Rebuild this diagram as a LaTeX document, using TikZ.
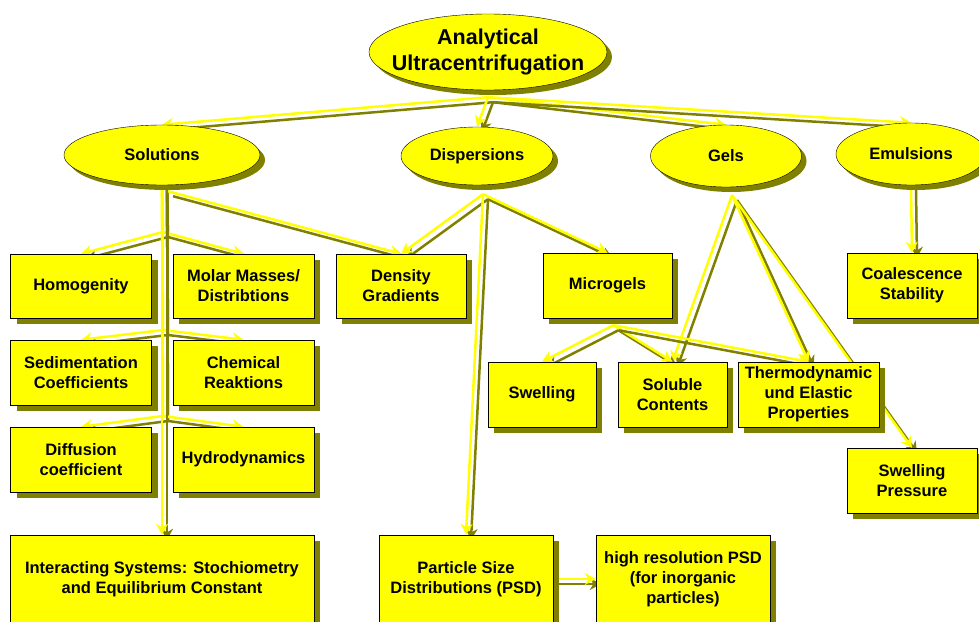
\documentclass[tikz,border=0pt]{standalone}
\usepackage{fontspec}
\setmainfont{Liberation Sans}
\usetikzlibrary{shapes,shadows,backgrounds,positioning}
\usetikzlibrary{arrows.meta}

\definecolor{shadowolive}{RGB}{128,128,0}
\definecolor{mapyellow}{RGB}{255,255,0}

\tikzset{
  concept/.style={ellipse, draw=black, thin, fill=mapyellow,
    font=\bfseries\fontsize{16.5}{20}\selectfont,
    drop shadow={shadow xshift=5pt, shadow yshift=-5pt, fill=shadowolive, opacity=1}},
  topic/.style={rectangle, draw=black, thin, fill=mapyellow, align=center, inner sep=1pt,
    font=\bfseries\fontsize{16.5}{20}\selectfont,
    drop shadow={shadow xshift=6pt, shadow yshift=-6pt, fill=shadowolive, opacity=1}},
  tip/.style={-{Stealth[length=11pt,width=12pt]}},
  link/.style={line width=2.5pt, draw=mapyellow, tip,
    preaction={draw=shadowolive, line width=2.5pt, tip, transform canvas={shift={(5pt,-5pt)}}}}
}

\begin{document}
\begin{tikzpicture}[x=1pt, y=-1pt]
        \useasboundingbox (0,0) rectangle (979,621);

        % main concept and its four branches
        \node[concept, minimum width=238pt, minimum height=76pt,
          label={[align=center, font=\bfseries\fontsize{21.5}{26}\selectfont]center:Analytical\\Ultracentrifugation}] (auc) at (488,52) {};
        \node[concept, minimum width=196pt, minimum height=60pt] (solutions) at (162,155) {Solutions};
        \node[concept, minimum width=152pt, minimum height=58pt] (dispersions) at (477,156) {Dispersions};
        \node[concept, minimum width=151pt, minimum height=62pt] (gels) at (726,156) {Gels};
        \node[concept, minimum width=150pt, minimum height=62pt] (emulsions) at (911,154) {Emulsions};

        % first row of topics
        \node[topic, minimum width=141pt, minimum height=64pt] (homogenity) at (81,286) {Homogenity};
        \node[topic, minimum width=141pt, minimum height=64pt] (molar) at (243.5,286) {Molar Masses/\\Distribtions};
        \node[topic, minimum width=130pt, minimum height=64pt] (density) at (401,286) {Density\\Gradients};
        \node[topic, minimum width=129pt, minimum height=65pt] (microgels) at (607.5,285.5) {Microgels};
        \node[topic, minimum width=130pt, minimum height=65pt] (coalescence) at (912,285.5) {Coalescence\\Stability};

        % solutions column
        \node[topic, minimum width=141pt, minimum height=65pt] (sedimentation) at (81,372.5) {Sedimentation\\Coefficients};
        \node[topic, minimum width=141pt, minimum height=65pt] (chemical) at (243.5,372.5) {Chemical\\Reaktions};
        \node[topic, minimum width=141pt, minimum height=65pt] (diffusion) at (81,459.5) {Diffusion\\coefficient};
        \node[topic, minimum width=141pt, minimum height=65pt] (hydro) at (243.5,459.5) {Hydrodynamics};

        % gels
        \node[topic, minimum width=108pt, minimum height=65pt] (swelling) at (542,394.5) {Swelling};
        \node[topic, minimum width=109pt, minimum height=65pt] (soluble) at (672.5,394.5) {Soluble\\Contents};
        \node[topic, minimum width=141pt, minimum height=65pt] (thermo) at (808.5,394.5) {Thermodynamic\\und Elastic\\Properties};
        \node[topic, minimum width=130pt, minimum height=65pt] (pressure) at (912,480.5) {Swelling\\Pressure};

        % bottom row
        \node[topic, minimum width=304pt, minimum height=88pt] (interacting) at (162,579) {Interacting Systems: Stochiometry\\and Equilibrium Constant};
        \node[topic, minimum width=174pt, minimum height=88pt] (psd) at (466,579) {Particle Size\\Distributions (PSD)};
        \node[topic, minimum width=174pt, minimum height=88pt] (highres) at (683,579) {high resolution PSD\\(for inorganic\\particles)};

        % where the links leave the nodes
        \coordinate (aucout) at ([yshift=-7pt]auc.south);
        \coordinate (solout) at ([xshift=6pt,yshift=-6pt]solutions.south);
        \coordinate (dispout) at ([xshift=6pt,yshift=-9pt]dispersions.south);
        \coordinate (gelsout) at ([xshift=6pt,yshift=-8pt]gels.south);
        \coordinate (microout) at ([xshift=6pt,yshift=-7pt]microgels.south);
        \coordinate (fork1) at (163,232);
        \coordinate (fork2) at (163,330);
        \coordinate (fork3) at (163,416);

        \begin{scope}[on background layer]
        \draw[link] (aucout) -- (solutions.north);
        \draw[link] (aucout) -- (dispersions.north);
        \draw[link] (aucout) -- (gels.north);
        \draw[link] (aucout) -- (emulsions.north);

        \draw[link] (solutions.south) -- (fork1) -- (homogenity.north);
        \draw[link] (solutions.south) -- (fork1) -- (molar.north);
        \draw[link] (solutions.south) -- (fork2) -- (sedimentation.north);
        \draw[link] (solutions.south) -- (fork2) -- (chemical.north);
        \draw[link] (solutions.south) -- (fork3) -- (diffusion.north);
        \draw[link] (solutions.south) -- (fork3) -- (hydro.north);
        \draw[link] (solutions.south) -- (interacting.north);
        \draw[link] (solout) -- (density.north);

        \draw[link] (dispout) -- (density.north);
        \draw[link] (dispout) -- (microgels.north);
        \draw[link] (dispout) -- (psd.north);

        \draw[link] (gelsout) -- (soluble.north);
        \draw[link] (gelsout) -- (thermo.north);
        \draw[link] (gelsout) -- (pressure.north);

        \draw[link] (microout) -- (swelling.north);
        \draw[link] (microout) -- (soluble.north);
        \draw[link] (microout) -- (thermo.north);

        \draw[link] (emulsions.south) -- (coalescence.north);
        \draw[link] (psd.east) -- (highres.west);
        \end{scope}
    \end{tikzpicture}
\end{document}
